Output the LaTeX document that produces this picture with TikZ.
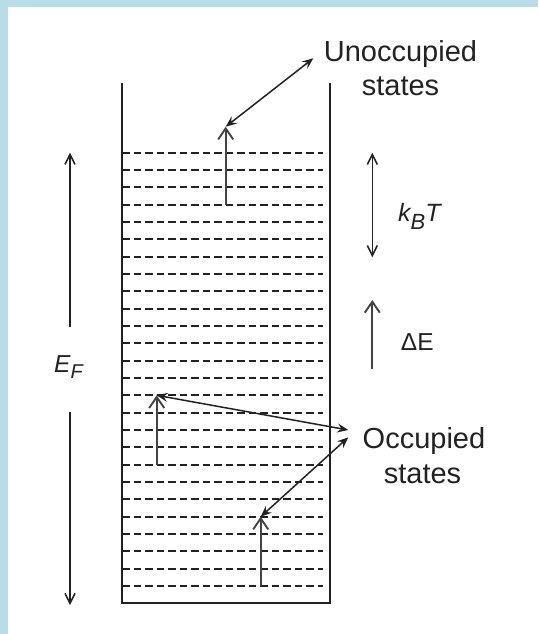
\documentclass[tikz,border=0pt]{standalone}
\usepackage{fontspec}
\setmainfont{Liberation Sans}
\usetikzlibrary{arrows.meta}
\definecolor{frameblue}{HTML}{B8DDE8}
\definecolor{ink}{HTML}{222222}
\begin{document}
\begin{tikzpicture}[x=1pt,y=-1pt,
  wall/.style={line width=2.4pt, draw=ink},
  level/.style={line width=2.1pt, draw=ink, dash pattern=on 7.5pt off 4pt},
  jump/.style={line width=1.9pt, draw=ink!85!white,
    -{Straight Barb[length=11pt,width=15pt]}},
  pointer/.style={line width=1.5pt, draw=ink,
    {Stealth[length=11pt,width=9pt,inset=4pt]}-{Stealth[length=11pt,width=9pt,inset=4pt]}},
  scalearrow/.style={line width=1.5pt, draw=ink,
    -{Straight Barb[length=10pt,width=10pt]}},
  scaletwo/.style={line width=1.6pt, draw=ink,
    {Straight Barb[length=10pt,width=10pt]}-{Straight Barb[length=10pt,width=10pt]}},
  lbl/.style={font=\fontsize{29}{34}\selectfont, text=ink, inner sep=0pt},
  qty/.style={font=\fontsize{24.5}{28}\selectfont, text=ink, inner sep=0pt}]
\useasboundingbox (0,0) rectangle (538,634);
\fill[white] (0,0) rectangle (538,634);
\fill[frameblue] (0,0) rectangle (538,7.5);
\fill[frameblue] (0,0) rectangle (7.5,634);
% energy levels
\foreach \k in {0,...,25} {
  \pgfmathsetmacro\yy{152.7+17.33*\k}
  \draw[level] (122,\yy) -- (323,\yy);
}
% box walls
\draw[wall] (122,83) -- (122,602.7) -- (330,602.7) -- (330,83);
% labels
\node[lbl, anchor=base] (unoccA) at (400.5,61.7) {Unoccupied};
\node[lbl, anchor=base] (unoccB) at (400.5,95) {states};
\node[lbl, anchor=base] (occA) at (424,448.3) {Occupied};
\node[lbl, anchor=base] (occB) at (422.5,483.3) {states};
\node[qty, anchor=base west, font=\fontsize{25}{28}\selectfont\itshape] (kT) at (398,221.7)
  {k\raisebox{-8pt}{\fontsize{22}{22}\selectfont B}T};
\node[qty, anchor=base west] (dE) at (400.7,350.7) {ΔE};
\node[qty, anchor=base west, font=\fontsize{24.5}{28}\selectfont\itshape] (EF) at (54,372.7)
  {E\raisebox{-6pt}{\fontsize{20}{20}\selectfont F}};
% coordinates
\coordinate (efTop) at (70,152.7);
\coordinate (efBot) at (70,605);
\coordinate (efA) at (70,326.7);
\coordinate (efB) at (70,411.7);
\coordinate (kTop) at (372.3,152.7);
\coordinate (kBot) at (372.3,257.3);
\coordinate (dEfoot) at (372.3,369.3);
\coordinate (dEtip) at (372.3,300);
\coordinate (j1foot) at (225.7,204.7);
\coordinate (j1tip) at (225.7,126.7);
\coordinate (j2foot) at (156.7,464.7);
\coordinate (j2tip) at (156.7,395.3);
\coordinate (j3foot) at (260.7,586);
\coordinate (j3tip) at (260.7,516.7);
\coordinate (uEnd) at (313.3,58.3);
\coordinate (oEndA) at (348.3,430);
\coordinate (oEndB) at (348.3,437.3);
% arrows
\draw[scalearrow] (efA) -- (efTop);
\draw[scalearrow] (efB) -- (efBot);
\draw[scaletwo] (kTop) -- (kBot);
\draw[jump] (dEfoot) -- (dEtip);
\draw[jump] (j1foot) -- (j1tip);
\draw[jump] (j2foot) -- (j2tip);
\draw[jump] (j3foot) -- (j3tip);
\draw[pointer] (j1tip) -- (uEnd);
\draw[pointer] (j2tip) -- (oEndA);
\draw[pointer] (j3tip) -- (oEndB);
\end{tikzpicture}
\end{document}
